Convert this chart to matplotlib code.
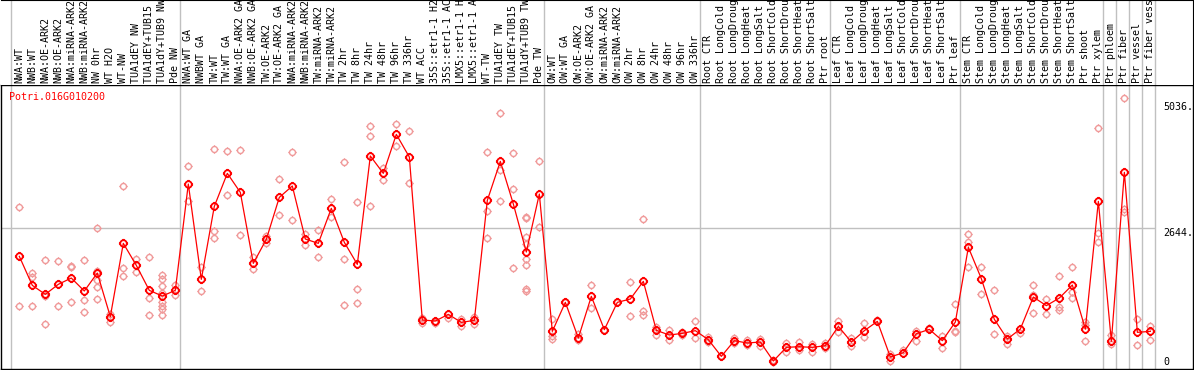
import numpy as np
import matplotlib.pyplot as plt
from matplotlib.path import Path

gene = 'Potri.016G010200'

labels = ['NWA:WT', 'NWB:WT', 'NWA:OE-ARK2', 'NWB:OE-ARK2', 'NWA:miRNA-ARK2',
          'NWB:miRNA-ARK2', 'NW 0hr', 'WT H2O', 'WT-NW', 'TUA1dEY NW',
          'TUA1dEY+TUB15 NW', 'TUA1dY+TUB9 NW', 'Pde NW',
          'NWA:WT GA', 'NWBWT GA', 'TW:WT', 'TW:WT GA', 'NWA:OE-ARK2 GA',
          'NWB:OE-ARK2 GA', 'TW:OE-ARK2', 'TW:OE-ARK2 GA', 'NWA:miRNA-ARK2',
          'NWB:miRNA-ARK2', 'TW:miRNA-ARK2', 'TW:miRNA-ARK2', 'TW 2hr', 'TW 8hr',
          'TW 24hr', 'TW 48hr', 'TW 96hr', 'TW 336hr', 'WT ACC',
          '35S::etr1-1 H2O', '35S::etr1-1 ACC', 'LMX5::etr1-1 H2O',
          'LMX5::etr1-1 ACC', 'WT-TW', 'TUA1dEY TW', 'TUA1dEY+TUB15 TW',
          'TUA1dY+TUB9 TW', 'Pde TW',
          'OW:WT', 'OW:WT GA', 'OW:OE-ARK2', 'OW:OE-ARK2 GA', 'OW:miRNA-ARK2',
          'OW:miRNA-ARK2', 'OW 2hr', 'OW 8hr', 'OW 24hr', 'OW 48hr', 'OW 96hr',
          'OW 336hr',
          'Root CTR', 'Root LongCold', 'Root LongDrought', 'Root LongHeat',
          'Root LongSalt', 'Root ShortCold', 'Root ShortDrought',
          'Root ShortHeat', 'Root ShortSalt', 'Ptr root',
          'Leaf CTR', 'Leaf LongCold', 'Leaf LongDrought', 'Leaf LongHeat',
          'Leaf LongSalt', 'Leaf ShortCold', 'Leaf ShortDrought',
          'Leaf ShortHeat', 'Leaf ShortSalt', 'Ptr leaf',
          'Stem CTR', 'Stem LongCold', 'Stem LongDrought', 'Stem LongHeat',
          'Stem LongSalt', 'Stem ShortCold', 'Stem ShortDrought',
          'Stem ShortHeat', 'Stem ShortSalt', 'Ptr shoot', 'Ptr xylem',
          'Ptr phloem', 'Ptr fiber', 'Ptr vessel', 'Ptr fiber vessel']

means = [2090, 1516, 1338, 1536, 1661, 1404, 1760, 897, 2347, 1912, 1417, 1305, 1417,
         3520, 1635, 3078, 3731, 3355, 1951, 2426, 3256, 3481, 2432, 2347, 3039, 2367,
         1931, 4074, 3731, 4502, 4054, 831, 811, 943, 784, 824, 3197, 3968, 3125, 2175,
         3322,
         606, 1180, 475, 1299, 639, 1180, 1246, 1595, 626, 534, 567, 620,
         442, 112, 422, 376, 396, 20, 290, 303, 290, 323,
         705, 396, 620, 804, 99, 185, 560, 646, 422, 791,
         2268, 1648, 844, 455, 653, 1285, 1114, 1266, 1523, 653, 3177,
         409, 3751, 587, 606]

reps = [[3059, 1107], [1767, 1674, 1107], [2011, 1305, 751], [1991, 1107],
        [1905, 1879, 1180], [2011, 1226, 982], [2644, 1800, 1622, 1477, 1246],
        [943, 798], [3474, 1859, 1694], [2037, 1786], [2070, 1259, 929],
        [1721, 1641, 1503, 1358, 1193, 1114, 1048, 929], [1523, 1325],
        [3876, 3184], [1879, 1398], [4206, 2591, 2459], [4166, 3296], [4186, 2505],
        [2070, 1846], [2492, 2360], [3612, 2900], [4146, 2802], [2531, 2320],
        [2610, 2070], [3217, 2861], [3949, 2030, 1121], [3164, 1444, 1160],
        [4661, 4463, 3078], [3830, 3593], [4700, 4278], [4568, 3533], [877, 765],
        [798, 778], [877], [857, 719], [890, 758], [4146, 2986, 2446],
        [4918, 3804, 3177], [4127, 3415, 1859],
        [2874, 2841, 2465, 2327, 2030, 1912, 1437, 1411], [3968, 2663],
        [850, 521, 448], [1180], [547, 435], [1516, 1075], [639], [1180],
        [1575, 910], [2821, 1009, 929], [692, 534], [633, 435], [600, 534],
        [804, 468],
        [501, 402], [112], [481, 369], [435, 336], [461, 323], [40, 0], [382, 204],
        [389, 237], [349, 204], [369, 270],
        [804, 600], [481, 316], [771, 501], [824], [152, 20], [231], [620, 422],
        [666], [521, 270], [1140, 613, 587],
        [2525, 2380, 1885], [1885, 1338], [1424, 560], [521, 363], [574],
        [1516, 1325, 976], [1239, 943], [1701, 1094, 1022], [1879, 1391, 1259],
        [784, 732, 409], [4621, 2545, 2380],
        [534, 349], [5214, 3026, 2973], [844, 330], [719, 428]]

# first column of each group (last entry closes the final group)
group_starts = [0, 13, 41, 53, 63, 73, 84, 85, 86, 87, 88]
ticks = [5036, 2644, 0]
tick_text = ['5036.', '2644.', '0']

W, H = 1194, 370
fig = plt.figure(figsize=(W / 100, H / 100), dpi=100)
ax = fig.add_axes([1 / W, 1 / H, 1192 / W, 284 / H])
top = fig.add_axes([1 / W, 285 / H, 1192 / W, 85 / H])

x = np.arange(len(labels))
xlim = (-1.408, 90.28)
grey = '#c0c0c0'
mono = 'DejaVu Sans Mono'

# circle with four little ticks
ring = Path.unit_circle()
stubs = Path([[0, 1], [0, 1.4], [0, -1], [0, -1.4], [1, 0], [1.4, 0], [-1, 0], [-1.4, 0]],
             [Path.MOVETO, Path.LINETO] * 4)
tick_circle = Path.make_compound_path(ring, stubs)

for s in group_starts:
    ax.axvline(s - 0.64, color=grey, lw=1, zorder=0)
    top.axvline(s - 0.64, color=grey, lw=1, zorder=0)
ax.hlines(ticks[1], xlim[0], group_starts[-1] - 0.64, color=grey, lw=1, zorder=0)

rx = [i for i, r in enumerate(reps) for _ in r]
ry = [v for r in reps for v in r]
ax.plot(rx, ry, ls='none', marker=tick_circle, ms=6, mfc='none', mec='#f09a9a', mew=1.0, zorder=2)
ax.plot(x, means, color='red', lw=0.9, zorder=3)
ax.plot(x, means, ls='none', marker=tick_circle, ms=6.6, mfc='none', mec='red', mew=1.3, zorder=4)

for v, t, va in zip(ticks, tick_text, ['center', 'top', 'center']):
    ax.text(len(labels), v, t, ha='left', va=va, family=mono, size=7.2)

ax.set_xlim(xlim)
ax.set_ylim(-138, 5478)
ax.set_xticks([])
ax.set_yticks([])
for sp in ax.spines.values():
    sp.set_linewidth(1.0)

top.set_xlim(xlim)
top.set_ylim(0, 85)
top.set_xticks([])
top.set_yticks([])
top.spines['left'].set_visible(False)
top.spines['bottom'].set_visible(False)
for i, lab in enumerate(labels):
    top.text(i, 2, lab, rotation=90, ha='center', va='bottom', family=mono, size=7.2, clip_on=True)

fig.text(9.3 / W, 1 - 97.3 / H, gene, color='red', family=mono, size=7.2, ha='left', va='center')

fig.savefig('out.png', dpi=100)
